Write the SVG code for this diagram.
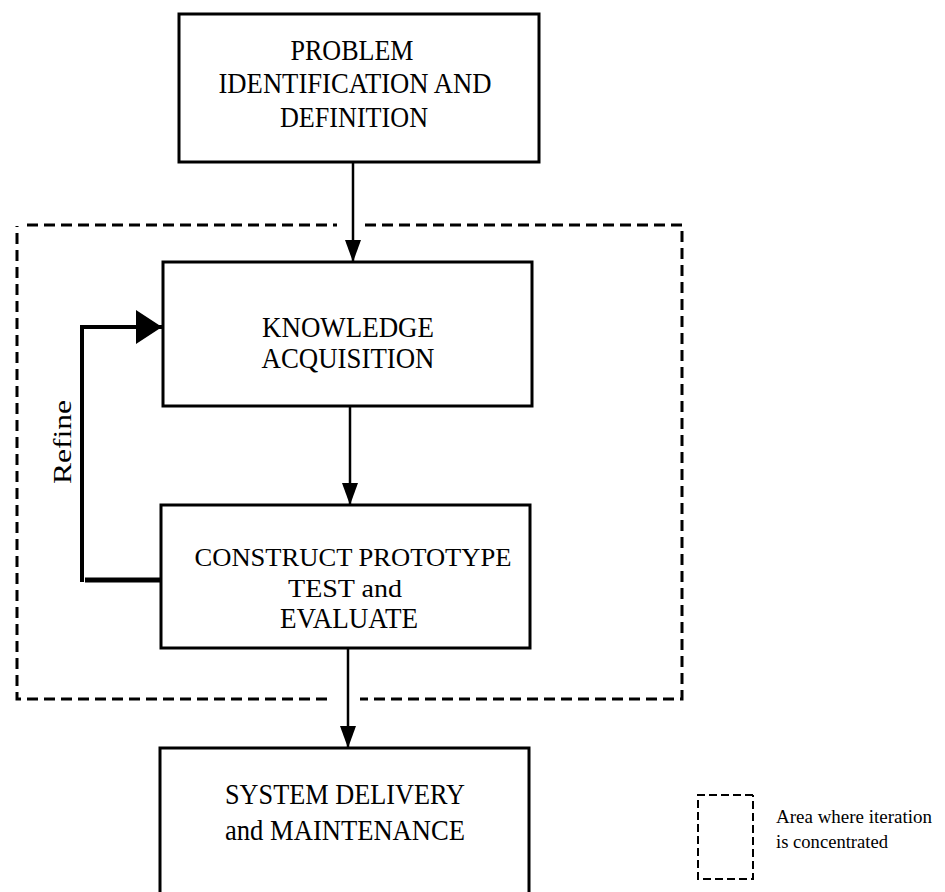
<svg xmlns="http://www.w3.org/2000/svg" width="945" height="892" viewBox="0 0 945 892">
<style>
.box{fill:#fff;stroke:#000;stroke-width:3}
.t{font-family:"Liberation Serif","Times New Roman",serif;font-size:30px;fill:#000;text-anchor:middle}
.lg{font-family:"Liberation Serif","Times New Roman",serif;font-size:19px;fill:#000}
.dash{fill:none;stroke:#000;stroke-width:3;stroke-dasharray:11 6}
.conn{fill:none;stroke:#000;stroke-width:2.5}
</style>
<defs>
<marker id="ah" markerUnits="userSpaceOnUse" markerWidth="24" markerHeight="18" refX="22" refY="8" orient="auto">
<path d="M0,0 L22,8 L0,16 Z" fill="#000"/>
</marker>
<marker id="ahb" markerUnits="userSpaceOnUse" markerWidth="28" markerHeight="36" refX="26" refY="17" orient="auto">
<path d="M0,0 L26,17 L0,34 Z" fill="#000"/>
</marker>
</defs>
<rect width="945" height="892" fill="#fff"/>

<g id="iteration-area">
<path class="dash" d="M27,225 H337 M365,225 H682 V699 H360 M327,699 H17 V226"/>
</g>

<g id="connectors">
<line class="conn" x1="353" y1="162" x2="353" y2="262" marker-end="url(#ah)"/>
<line class="conn" x1="350" y1="406" x2="350" y2="505" marker-end="url(#ah)"/>
<line class="conn" x1="348" y1="648" x2="348" y2="748" marker-end="url(#ah)"/>
<path d="M161,580 H85" fill="none" stroke="#000" stroke-width="5"/>
<path d="M82,582 V327 H162" fill="none" stroke="#000" stroke-width="4" marker-end="url(#ahb)"/>
<text class="t" transform="translate(71,442) rotate(-90)" style="font-size:25px" textLength="84" lengthAdjust="spacingAndGlyphs">Refine</text>
</g>

<g id="problem">
<rect class="box" x="179" y="14" width="360" height="148"/>
<text class="t" x="352" y="60" textLength="123" lengthAdjust="spacingAndGlyphs">PROBLEM</text>
<text class="t" x="355" y="93" textLength="273" lengthAdjust="spacingAndGlyphs">IDENTIFICATION AND</text>
<text class="t" x="354" y="127" textLength="148" lengthAdjust="spacingAndGlyphs">DEFINITION</text>
</g>

<g id="knowledge">
<rect class="box" x="163" y="262" width="369" height="144"/>
<text class="t" x="348" y="337" textLength="172" lengthAdjust="spacingAndGlyphs">KNOWLEDGE</text>
<text class="t" x="348" y="368" textLength="173" lengthAdjust="spacingAndGlyphs">ACQUISITION</text>
</g>

<g id="construct">
<rect class="box" x="161" y="505" width="369" height="143"/>
<text class="t" x="353" y="566" style="font-size:26px" textLength="317" lengthAdjust="spacingAndGlyphs">CONSTRUCT PROTOTYPE</text>
<text class="t" x="345" y="597" style="font-size:26px" textLength="114" lengthAdjust="spacingAndGlyphs">TEST and</text>
<text class="t" x="349" y="628" textLength="138" lengthAdjust="spacingAndGlyphs">EVALUATE</text>
</g>

<g id="delivery">
<rect class="box" x="160" y="748" width="369" height="160"/>
<text class="t" x="345" y="804" textLength="240" lengthAdjust="spacingAndGlyphs">SYSTEM DELIVERY</text>
<text class="t" x="345" y="840" textLength="240" lengthAdjust="spacingAndGlyphs">and MAINTENANCE</text>
</g>

<g id="legend">
<path class="dash" style="stroke-width:2;stroke-dasharray:8 4" d="M753,795 H698 V879 H753 V795"/>
<text class="lg" x="776" y="823" textLength="156" lengthAdjust="spacingAndGlyphs">Area where iteration</text>
<text class="lg" x="776" y="848" textLength="112" lengthAdjust="spacingAndGlyphs">is concentrated</text>
</g>
</svg>
